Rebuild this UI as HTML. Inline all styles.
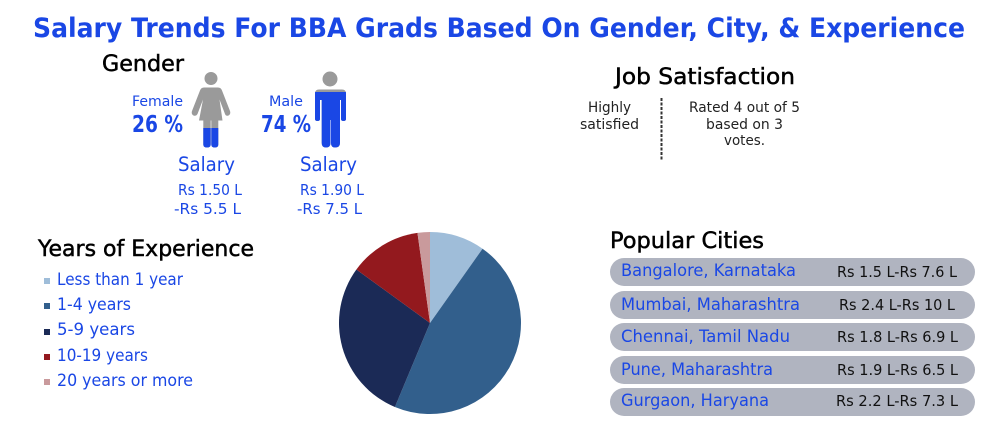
<!DOCTYPE html>
<html lang="en">
<head>
<meta charset="utf-8">
<title>Salary Trends For BBA Grads</title>
<style>
html,body{margin:0;padding:0;background:#fff;width:1000px;height:423px;overflow:hidden}
svg{display:block}
text{font-family:"DejaVu Sans","Liberation Sans",sans-serif;white-space:pre}
.b{fill:#1a47e5}
.k{fill:#111}
.h{font-size:22.500px;fill:#000;stroke:#000;stroke-width:.5px}
</style>
</head>
<body>
<svg id="chart" width="1000" height="423" viewBox="0 0 1000 423" xmlns="http://www.w3.org/2000/svg">
<defs>
<clipPath id="female-clip">
<circle cx="211" cy="78.500" r="6.500"/>
<path d="M204 87.500H218Q221 87.500 222 90.500L230 111Q231 114 228.500 115.500Q226 116.500 225 114L219.500 99.500L222.500 120.500H218.300V144.500Q218.300 147.500 214.800 147.500Q211.300 147.500 211.300 144.500V120.500H210.700V144.500Q210.700 147.500 207 147.500Q203.300 147.500 203.300 144.500V120.500H199L203 99.500L197.500 114Q196 116.500 193.500 115.500Q191 114 192 111L200 90.500Q201 87.500 204 87.500Z"/>
</clipPath>
<clipPath id="male-clip">
<circle cx="330" cy="79" r="7.500"/>
<path d="M319 89.500H342Q346 89.500 346 93.500V119Q346 121 343.500 121Q341 121 341 119V100H340V143Q340 147.500 335 147.500Q331 147.500 331 143V120H330.500V143Q330.500 147.500 326 147.500Q321.700 147.500 321.700 143V100H320V119Q320 121 317.500 121Q315 121 315 119V93.500Q315 89.500 319 89.500Z"/>
</clipPath>
</defs>

<text x="33" y="37" textLength="932" lengthAdjust="spacingAndGlyphs" font-size="27" font-weight="700" class="b">Salary Trends For BBA Grads Based On Gender, City, &amp; Experience</text>

<text x="102" y="71" textLength="82" lengthAdjust="spacingAndGlyphs" class="h">Gender</text>
<text x="132" y="106" textLength="51" lengthAdjust="spacingAndGlyphs" font-size="14" class="b">Female</text>
<text x="132" y="132" textLength="51" lengthAdjust="spacingAndGlyphs" font-size="23" font-weight="700" class="b">26 %</text>
<text x="269" y="106" textLength="34" lengthAdjust="spacingAndGlyphs" font-size="14" class="b">Male</text>
<text x="261" y="132" textLength="50" lengthAdjust="spacingAndGlyphs" font-size="23" font-weight="700" class="b">74 %</text>

<g id="icons"></g>

<text x="178" y="171" textLength="57" lengthAdjust="spacingAndGlyphs" font-size="19.500" class="b">Salary</text>
<text x="178" y="195" textLength="64" lengthAdjust="spacingAndGlyphs" font-size="15.500" class="b">Rs 1.50 L</text>
<text x="174" y="214" textLength="67" lengthAdjust="spacingAndGlyphs" font-size="15.500" class="b">-Rs 5.5 L</text>
<text x="300" y="171" textLength="57" lengthAdjust="spacingAndGlyphs" font-size="19.500" class="b">Salary</text>
<text x="300" y="195" textLength="64" lengthAdjust="spacingAndGlyphs" font-size="15.500" class="b">Rs 1.90 L</text>
<text x="297" y="214" textLength="65" lengthAdjust="spacingAndGlyphs" font-size="15.500" class="b">-Rs 7.5 L</text>

<text x="615" y="84" textLength="180" lengthAdjust="spacingAndGlyphs" class="h">Job Satisfaction</text>
<text x="588" y="112" textLength="43" lengthAdjust="spacingAndGlyphs" font-size="14.500" fill="#222">Highly</text>
<text x="580" y="129" textLength="59" lengthAdjust="spacingAndGlyphs" font-size="14.500" fill="#222">satisfied</text>
<line x1="661.500" y1="98" x2="661.500" y2="161" stroke="#333" stroke-width="2" stroke-dasharray="3 1.500"/>
<text x="689" y="112" textLength="111" lengthAdjust="spacingAndGlyphs" font-size="14.500" fill="#222">Rated 4 out of 5</text>
<text x="706" y="129" textLength="77" lengthAdjust="spacingAndGlyphs" font-size="14.500" fill="#222">based on 3</text>
<text x="724" y="145" textLength="41" lengthAdjust="spacingAndGlyphs" font-size="14.500" fill="#222">votes.</text>

<text x="38" y="256" textLength="216" lengthAdjust="spacingAndGlyphs" class="h">Years of Experience</text>
<g>
<rect x="44" y="278" width="6" height="6" fill="#9fbdd9"/>
<text x="57" y="285" textLength="126" lengthAdjust="spacingAndGlyphs" font-size="17" class="b">Less than 1 year</text>
<rect x="44" y="303" width="6" height="6" fill="#325f8c"/>
<text x="57" y="310" textLength="74" lengthAdjust="spacingAndGlyphs" font-size="17" class="b">1-4 years</text>
<rect x="44" y="329" width="6" height="6" fill="#1b2a56"/>
<text x="57" y="335" textLength="78" lengthAdjust="spacingAndGlyphs" font-size="17" class="b">5-9 years</text>
<rect x="44" y="354" width="6" height="6" fill="#93191e"/>
<text x="57" y="361" textLength="91" lengthAdjust="spacingAndGlyphs" font-size="17" class="b">10-19 years</text>
<rect x="44" y="379" width="6" height="6" fill="#c99a9c"/>
<text x="57" y="386" textLength="136" lengthAdjust="spacingAndGlyphs" font-size="17" class="b">20 years or more</text>
</g>

<g id="pie"></g>

<text x="610" y="248" textLength="154" lengthAdjust="spacingAndGlyphs" class="h">Popular Cities</text>
<g>
<rect x="610" y="258" width="365" height="28" rx="14" fill="#b0b4c0"/>
<text x="621" y="276" textLength="175" lengthAdjust="spacingAndGlyphs" font-size="17" class="b">Bangalore, Karnataka</text>
<text x="837" y="277" textLength="120" lengthAdjust="spacingAndGlyphs" font-size="15.500" class="k">Rs 1.5 L-Rs 7.6 L</text>
</g>
<g>
<rect x="610" y="291" width="365" height="28" rx="14" fill="#b0b4c0"/>
<text x="621" y="310" textLength="179" lengthAdjust="spacingAndGlyphs" font-size="17" class="b">Mumbai, Maharashtra</text>
<text x="839" y="310" textLength="116" lengthAdjust="spacingAndGlyphs" font-size="15.500" class="k">Rs 2.4 L-Rs 10 L</text>
</g>
<g>
<rect x="610" y="323" width="365" height="28" rx="14" fill="#b0b4c0"/>
<text x="621" y="342" textLength="169" lengthAdjust="spacingAndGlyphs" font-size="17" class="b">Chennai, Tamil Nadu</text>
<text x="837" y="342" textLength="121" lengthAdjust="spacingAndGlyphs" font-size="15.500" class="k">Rs 1.8 L-Rs 6.9 L</text>
</g>
<g>
<rect x="610" y="356" width="365" height="28" rx="14" fill="#b0b4c0"/>
<text x="621" y="375" textLength="152" lengthAdjust="spacingAndGlyphs" font-size="17" class="b">Pune, Maharashtra</text>
<text x="837" y="375" textLength="121" lengthAdjust="spacingAndGlyphs" font-size="15.500" class="k">Rs 1.9 L-Rs 6.5 L</text>
</g>
<g>
<rect x="610" y="388" width="365" height="28" rx="14" fill="#b0b4c0"/>
<text x="621" y="406" textLength="148" lengthAdjust="spacingAndGlyphs" font-size="17" class="b">Gurgaon, Haryana</text>
<text x="836" y="406" textLength="122" lengthAdjust="spacingAndGlyphs" font-size="15.500" class="k">Rs 2.2 L-Rs 7.3 L</text>
</g>
</svg>

<script>
const experienceCategories = ["Less than 1 year", "1-4 years", "5-9 years", "10-19 years", "20 years or more"];
const experienceShares = [9.8, 46.5, 28.7, 12.8, 2.2];
const sliceColors = ["#9fbdd9", "#325f8c", "#1b2a56", "#93191e", "#c99a9c"];
const genderCategories = ["female", "male"];
const genderShares = [26, 74];

const NS = "http://www.w3.org/2000/svg";
const pieCx = 430, pieCy = 323, pieR = 91;
const total = experienceShares.reduce((a, b) => a + b, 0);
function angleOf(value) { return value / total * 2 * Math.PI; }
function polar(angle) {
  return [pieCx + pieR * Math.sin(angle), pieCy - pieR * Math.cos(angle)];
}
const pieGroup = document.getElementById("pie");
let cumulative = 0;
experienceShares.forEach(function (value, i) {
  const a0 = angleOf(cumulative);
  cumulative += value;
  const a1 = angleOf(cumulative);
  const p0 = polar(a0), p1 = polar(a1);
  const large = a1 - a0 > Math.PI ? 1 : 0;
  const slice = document.createElementNS(NS, "path");
  slice.setAttribute("d", "M" + pieCx + " " + pieCy + "L" + p0[0] + " " + p0[1] + "A" + pieR + " " + pieR + " 0 " + large + " 1 " + p1[0] + " " + p1[1] + "Z");
  slice.setAttribute("fill", sliceColors[i]);
  
  
  pieGroup.appendChild(slice);
});

const iconBottom = 147.5, iconScale = 75;
function fillY(share) { return iconBottom - share / 100 * iconScale; }
const iconGroup = document.getElementById("icons");
genderCategories.forEach(function (gender, i) {
  const g = document.createElementNS(NS, "g");
  g.setAttribute("clip-path", "url(#" + gender + "-clip)");
  
  
  const left = gender === "female" ? 185 : 310;
  const base = document.createElementNS(NS, "rect");
  base.setAttribute("x", left);
  base.setAttribute("y", 65);
  base.setAttribute("width", 50);
  base.setAttribute("height", 85);
  base.setAttribute("fill", "#9a9a9a");
  
  
  g.appendChild(base);
  const fill = document.createElementNS(NS, "rect");
  const y = fillY(genderShares[i]);
  fill.setAttribute("x", left);
  fill.setAttribute("y", y);
  fill.setAttribute("width", 50);
  fill.setAttribute("height", 150 - y);
  fill.setAttribute("fill", "#1a47e5");
  
  
  g.appendChild(fill);
  iconGroup.appendChild(g);
});
</script>
</body>
</html>
